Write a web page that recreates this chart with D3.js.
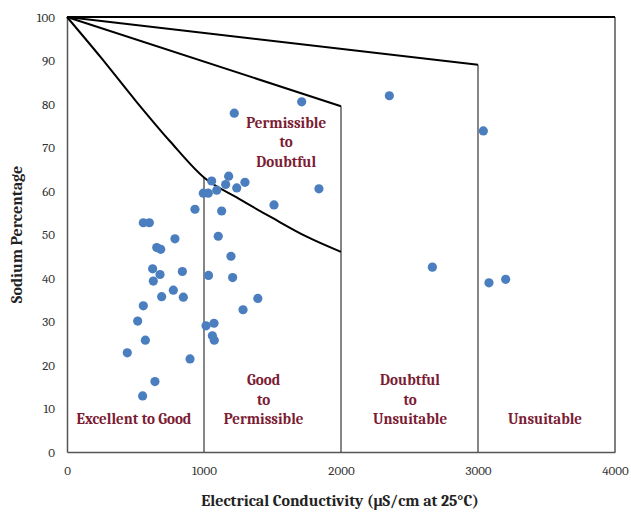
<!DOCTYPE html>
<html>
<head>
<meta charset="utf-8">
<script src="https://cdn.jsdelivr.net/npm/d3@7"></script>
<style>
  body { margin: 0; background: #fff; }
  svg { display: block; }
</style>
</head>
<body>
<svg id="svg" width="631" height="517"></svg>
<script>
// EC (uS/cm) and Na% of the samples
var ecValues = [557, 601, 788, 655, 684, 625, 679, 630, 842, 776, 691, 849, 557,
    934, 995, 1031, 1056, 1093, 1158, 1180, 1239, 1299, 1129, 1104, 1197, 1033,
    1209, 1393, 1285, 516, 572, 440, 898, 642, 552, 1015, 1073, 1061, 1075,
    1713, 1221, 1839, 1511, 2353, 3039, 2667, 3080, 3202];
var naValues = [52.7, 52.7, 49.0, 47.0, 46.6, 42.1, 40.8, 39.3, 41.5, 37.2, 35.7, 35.6, 33.6,
    55.8, 59.5, 59.5, 62.3, 60.2, 61.5, 63.4, 60.7, 62.0, 55.4, 49.6, 45.0, 40.6,
    40.1, 35.3, 32.7, 30.1, 25.7, 22.8, 21.4, 16.2, 12.9, 29.0, 29.6, 26.7, 25.7,
    80.5, 77.9, 60.5, 56.8, 81.9, 73.8, 42.5, 38.9, 39.7];

// Wilcox class boundaries
var curveEc = [0, 250, 500, 750, 1000, 1250, 1500, 1750, 2000];
var curveNa = [100, 90.6, 80.8, 71.5, 63.1, 58.3, 53.8, 49.5, 46];
var line2Ec = [0, 2000];
var line2Na = [100, 79.5];
var line3Ec = [0, 3000];
var line3Na = [100, 89];

var xTicks = [0, 1000, 2000, 3000, 4000];
var yTicks = [0, 10, 20, 30, 40, 50, 60, 70, 80, 90, 100];

var zoneLabels = [
    {lines: ["Permissible", "to", "Doubtful"], ec: 1600, na: 74.5},
    {lines: ["Good", "to", "Permissible"], ec: 1435, na: 15.4},
    {lines: ["Doubtful", "to", "Unsuitable"], ec: 2504, na: 15.4},
    {lines: ["Excellent to Good"], ec: 489, na: 6.4},
    {lines: ["Unsuitable"], ec: 3489, na: 6.4}
];

var svg = d3.select("svg"),
    margin = {top: 17, right: 16, bottom: 65, left: 67},
    width = 631 - margin.left - margin.right,
    height = 517 - margin.top - margin.bottom;

var g = svg.append("g").attr("transform", "translate(" + margin.left + "," + margin.top + ")");

var x = d3.scaleLinear().domain([0, 4000]).range([0, width]);
var y = d3.scaleLinear().domain([0, 100]).range([height, 0]);

var serif = "Cambria, 'Liberation Serif', 'DejaVu Serif', serif";

// x axis
var xAxis = g.append("g")
    .attr("transform", "translate(0," + height + ")")
    .call(d3.axisBottom(x).tickValues(xTicks).tickSize(0).tickPadding(14).tickFormat(d3.format("d")));
xAxis.select(".domain").attr("stroke", "#555").attr("stroke-width", 1.5);
xAxis.selectAll("text").attr("font-family", serif).attr("font-size", 13).attr("fill", "#333");

// y axis
var yAxis = g.append("g")
    .call(d3.axisLeft(y).tickValues(yTicks).tickSize(0).tickPadding(12));
yAxis.select(".domain").attr("stroke", "#555").attr("stroke-width", 1.5);
yAxis.selectAll("text").attr("font-family", serif).attr("font-size", 13).attr("fill", "#333");

// right frame
g.append("line")
    .attr("x1", x(4000)).attr("x2", x(4000))
    .attr("y1", y(0)).attr("y2", y(100))
    .attr("stroke", "#555").attr("stroke-width", 1.5);

// top line Na = 100
g.append("line")
    .attr("x1", x(0)).attr("x2", x(4000))
    .attr("y1", y(100)).attr("y2", y(100))
    .attr("stroke", "#000").attr("stroke-width", 2);

// vertical class lines
var vLines = [[1000, curveNa[4]], [2000, line2Na[1]], [3000, line3Na[1]]];
g.selectAll(".vline")
    .data(vLines)
    .enter().append("line")
    .attr("class", "vline")
    .attr("x1", function (d) { return x(d[0]); })
    .attr("x2", function (d) { return x(d[0]); })
    .attr("y1", y(0))
    .attr("y2", function (d) { return y(d[1]); })
    .attr("stroke", "#444").attr("stroke-width", 1.3);

var line = d3.line()
    .x(function (d) { return x(d[0]); })
    .y(function (d) { return y(d[1]); });

g.append("path")
    .datum(d3.zip(curveEc, curveNa))
    .attr("fill", "none").attr("stroke", "#000").attr("stroke-width", 2)
    .attr("d", line.curve(d3.curveMonotoneX));

g.append("path")
    .datum(d3.zip(line2Ec, line2Na))
    .attr("fill", "none").attr("stroke", "#000").attr("stroke-width", 2)
    .attr("d", line.curve(d3.curveLinear));

g.append("path")
    .datum(d3.zip(line3Ec, line3Na))
    .attr("fill", "none").attr("stroke", "#000").attr("stroke-width", 2)
    .attr("d", line.curve(d3.curveLinear));

// zone labels
var lab = g.selectAll(".zone")
    .data(zoneLabels)
    .enter().append("text")
    .attr("class", "zone")
    .attr("text-anchor", "middle")
    .attr("font-family", serif)
    .attr("font-weight", "bold")
    .attr("font-size", 15)
    .attr("fill", "#7b1c34");
lab.selectAll("tspan")
    .data(function (d) {
        return d.lines.map(function (t, i) { return {t: t, i: i, d: d}; });
    })
    .enter().append("tspan")
    .attr("x", function (e) { return x(e.d.ec); })
    .attr("y", function (e) { return y(e.d.na) + e.i * 19.5; })
    .text(function (e) { return e.t; });

// samples
g.selectAll(".dot")
    .data(d3.zip(ecValues, naValues))
    .enter().append("circle")
    .attr("class", "dot")
    .attr("cx", function (d) { return x(d[0]); })
    .attr("cy", function (d) { return y(d[1]); })
    .attr("r", 4.6)
    .attr("fill", "#4a7ebf");

// axis titles
svg.append("text")
    .attr("x", margin.left + width / 2 - 1)
    .attr("y", 506)
    .attr("text-anchor", "middle")
    .attr("font-family", serif)
    .attr("font-weight", "bold")
    .attr("font-size", 16)
    .attr("fill", "#222")
    .text("Electrical Conductivity (\u03bcS/cm at 25\u00b0C)");

svg.append("text")
    .attr("transform", "translate(22," + (margin.top + height / 2) + ") rotate(-90)")
    .attr("text-anchor", "middle")
    .attr("font-family", serif)
    .attr("font-weight", "bold")
    .attr("font-size", 16)
    .attr("fill", "#222")
    .text("Sodium Percentage");
</script>
</body>
</html>
